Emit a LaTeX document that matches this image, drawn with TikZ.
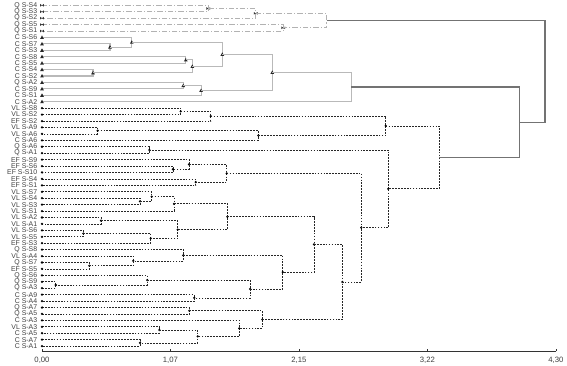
\documentclass[tikz,border=0pt]{standalone}
\usepackage{fontspec}
\setmainfont{Liberation Sans}
\usetikzlibrary{calc}

% line looks of the three groups and of the top links
\tikzset{
  leaflabel/.style={anchor=east, inner sep=0pt, font=\fontsize{5.2}{5}\selectfont, text=black!75},
  ticklabel/.style={anchor=north, inner sep=0pt, font=\fontsize{5.8}{6}\selectfont, text=black!75},
  qline/.style={gray!60, line width=0.5pt, dash pattern=on 4pt off 1.5pt on 0.8pt off 1.5pt},
  cline/.style={gray!55, line width=0.8pt},
  vline/.style={black!85, line width=0.5pt, dash pattern=on 1.3pt off 0.9pt},
  topline/.style={black!55, line width=0.9pt},
}

% markers
\newcommand\qmark[1]{\fill[black!80] (#1) ++(-1.4pt,1pt) -- ++(2.8pt,-2pt) -- ++(0,2pt) -- ++(-2.8pt,-2pt) -- cycle;}
\newcommand\cmark[1]{\fill[black!85] (#1) ++(0,1.5pt) -- ++(1.4pt,-2.6pt) -- ++(-2.8pt,0) -- cycle;}
\newcommand\vmark[1]{\fill[black] (#1) circle (0.95pt);}
\newcommand\nomark[1]{}

% style, marker, name, distance, first child, second child
\newcommand\merge[6]{%
  \path ($(#5)!.5!(#6)$) coordinate (mid);
  \coordinate (#3) at (mid-|#4,0);
  \draw[#1] (#5) -| (#3) |- (#6);
  #2{#3}}

\begin{document}
\begin{tikzpicture}[x=89.625pt, y=-4.8225pt]
\useasboundingbox (-0.3515,0.1757) rectangle (4.3933,57.096);

% leaves
\foreach \lab [count=\i] in {Q S-S4, Q S-S3, Q S-S2, Q S-S5, Q S-S1,
    C S-S6, C S-S7, C S-S3, C S-S8, C S-S5, C S-S4, C S-S2, Q S-A2, C S-S9, C S-S1, C S-A2,
    VL S-S8, VL S-S2, EF S-S2, VL S-A9, VL S-A6, C S-A6, Q S-A6, Q S-A1,
    EF S-S9, EF S-S6, EF S-S10, EF S-S4, EF S-S1, VL S-S7, VL S-S4, VL S-S3, VL S-S1,
    VL S-A2, VL S-A1, VL S-S6, VL S-S5, EF S-S3, Q S-S8, VL S-A4, Q S-S7, EF S-S5,
    Q S-S6, Q S-S9, Q S-A3, C S-A9, C S-A4, Q S-A7, Q S-A5, C S-A3, VL S-A3, C S-A5,
    C S-A7, C S-A1}
  {\coordinate (l\i) at (0,\i);
   \node[leaflabel] (n\i) at ([xshift=-3.4pt]l\i) {\lab};}

% Q S-S group
\merge{qline}{\qmark}{q1}{1.392}{l1}{l2}
\merge{qline}{\qmark}{q2}{1.788}{q1}{l3}
\merge{qline}{\qmark}{q3}{2.019}{l4}{l5}
\merge{qline}{\nomark}{q4}{2.382}{q2}{q3}

% C S-S group
\merge{cline}{\cmark}{c0}{0.569}{l7}{l8}
\merge{cline}{\cmark}{c1}{0.751}{l6}{c0}
\merge{cline}{\cmark}{c3}{1.203}{l9}{l10}
\merge{cline}{\cmark}{c5}{0.427}{l11}{l12}
\merge{cline}{\cmark}{c4}{1.258}{c3}{c5}
\merge{cline}{\cmark}{c2}{1.509}{c1}{c4}
\merge{cline}{\cmark}{c7}{1.182}{l13}{l14}
\merge{cline}{\cmark}{c8}{1.331}{c7}{l15}
\merge{cline}{\cmark}{c6}{1.927}{c2}{c8}
\merge{cline}{\nomark}{c9}{2.586}{c6}{l16}

% dotted group
\merge{vline}{\vmark}{v1}{1.161}{l17}{l18}
\merge{vline}{\vmark}{v2}{1.412}{v1}{l19}
\merge{vline}{\vmark}{v3}{0.466}{l20}{l21}
\merge{vline}{\vmark}{v4}{1.810}{v3}{l22}
\merge{vline}{\vmark}{v5}{2.876}{v2}{v4}
\merge{vline}{\vmark}{v6}{0.898}{l23}{l24}
\merge{vline}{\vmark}{v7}{1.096}{l26}{l27}
\merge{vline}{\vmark}{v8}{1.230}{l25}{v7}
\merge{vline}{\vmark}{v9}{1.286}{l28}{l29}
\merge{vline}{\vmark}{v10}{1.546}{v8}{v9}
\merge{vline}{\vmark}{v11}{0.820}{l31}{l32}
\merge{vline}{\vmark}{v12}{0.918}{l30}{v11}
\merge{vline}{\vmark}{v13}{1.105}{v12}{l33}
\merge{vline}{\vmark}{v14}{0.494}{l34}{l35}
\merge{vline}{\vmark}{v15}{0.346}{l36}{l37}
\merge{vline}{\vmark}{v16}{0.910}{v15}{l38}
\merge{vline}{\vmark}{v17}{1.136}{v14}{v16}
\merge{vline}{\vmark}{v18}{1.551}{v13}{v17}
\merge{vline}{\vmark}{v19}{0.396}{l41}{l42}
\merge{vline}{\vmark}{v20}{0.764}{l40}{v19}
\merge{vline}{\vmark}{v21}{1.182}{l39}{v20}
\merge{vline}{\vmark}{v22}{0.115}{l44}{l45}
\merge{vline}{\vmark}{v23}{0.881}{l43}{v22}
\merge{vline}{\vmark}{v24}{1.274}{l46}{l47}
\merge{vline}{\vmark}{v25}{1.741}{v23}{v24}
\merge{vline}{\vmark}{v26}{2.014}{v21}{v25}
\merge{vline}{\vmark}{v27}{2.276}{v18}{v26}
\merge{vline}{\vmark}{v28}{1.233}{l48}{l49}
\merge{vline}{\vmark}{v29}{0.982}{l51}{l52}
\merge{vline}{\vmark}{v30}{0.820}{l53}{l54}
\merge{vline}{\vmark}{v31}{1.303}{v29}{v30}
\merge{vline}{\vmark}{v32}{1.651}{l50}{v31}
\merge{vline}{\vmark}{v33}{1.844}{v28}{v32}
\merge{vline}{\vmark}{v34}{2.513}{v27}{v33}
\merge{vline}{\vmark}{v35}{2.672}{v10}{v34}
\merge{vline}{\vmark}{v36}{2.898}{v6}{v35}
\merge{vline}{\nomark}{v37}{3.322}{v5}{v36}

% top links
\merge{topline}{\nomark}{t1}{3.994}{c9}{v37}
\merge{topline}{\nomark}{t2}{4.209}{q4}{t1}

% leaf markers
\foreach \i in {1,...,5} {\qmark{l\i}}
\foreach \i in {6,...,16} {\cmark{l\i}}
\foreach \i in {17,...,54} {\vmark{l\i}}

% axis
\draw[black!80, line width=0.5pt] (0,54.84) coordinate (ax0) -- (4.30,54.84) coordinate (ax1);
\foreach \d/\t in {0/0{,}00, 1.075/1{,}07, 2.15/2{,}15, 3.225/3{,}22, 4.30/4{,}30}
  {\draw[black!80, line width=0.5pt] (\d,54.84) -- ++(0,2.2pt);
   \node[ticklabel] at (\d,55.6) {\t};}
\end{tikzpicture}
\end{document}
